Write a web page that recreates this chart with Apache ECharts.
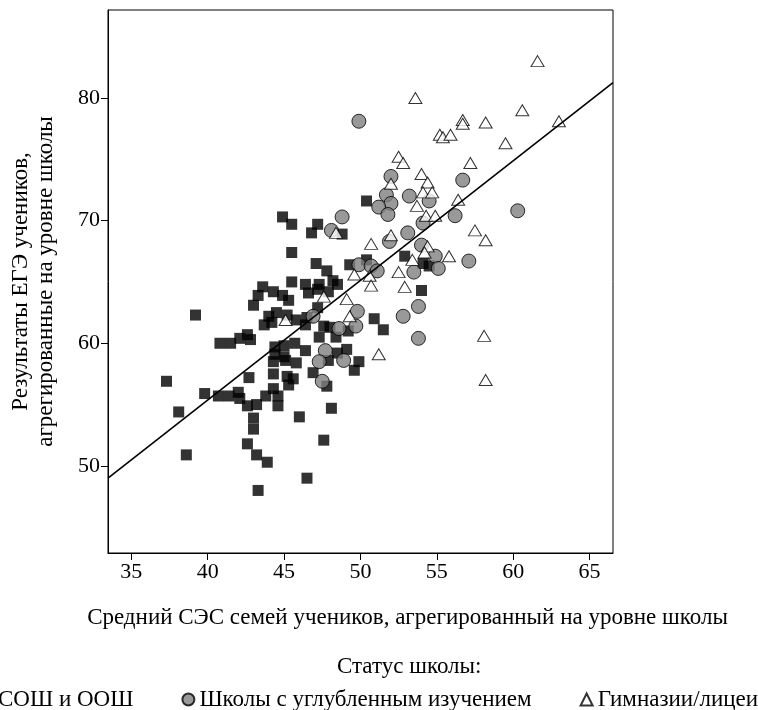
<!DOCTYPE html>
<html>
<head>
<meta charset="utf-8">
<script src="https://cdn.jsdelivr.net/npm/echarts@6/dist/echarts.min.js"></script>
<style>
  html, body { margin: 0; padding: 0; background: #fff; }
  #chart { width: 758px; height: 710px; }
</style>
</head>
<body>
<div id="chart"></div>
<script>
// значения: [СЭС, балл ЕГЭ]
const soshPoints = [
  [43.6, 64.6], [43.3, 63.9], [44.3, 64.2], [43.0, 63.1], [39.2, 62.3], [44.0, 62.2], [44.5, 62.5],
  [43.7, 61.5], [44.2, 61.7], [40.8, 60.0], [41.5, 60.0], [42.1, 60.4], [42.6, 60.7], [42.8, 60.3],
  [44.4, 59.7], [44.4, 59.1], [44.3, 58.5], [42.7, 57.2], [37.3, 56.9], [44.3, 57.5], [39.8, 55.9],
  [40.7, 55.7], [41.4, 55.7], [42.0, 56.0], [42.1, 55.5], [42.6, 54.9], [43.2, 55.0], [43.8, 55.7],
  [44.3, 56.3], [44.6, 55.7], [44.6, 54.9], [38.1, 54.4], [43.0, 53.9], [43.0, 53.0], [42.6, 51.8],
  [43.2, 50.9], [43.9, 50.3], [38.6, 50.9], [43.3, 48.0],
  [44.9, 70.3], [45.5, 69.7], [47.2, 69.7], [46.8, 69.0], [48.8, 68.9], [45.5, 67.4], [47.1, 66.5],
  [47.8, 65.9], [49.3, 66.4], [50.4, 66.8], [50.4, 71.6], [45.5, 65.0], [46.4, 64.8], [47.3, 64.8],
  [48.2, 65.1], [48.5, 64.8], [47.9, 64.2], [46.6, 64.1], [47.2, 64.4], [44.9, 63.9], [45.3, 63.5],
  [47.2, 62.9], [45.2, 62.3], [45.8, 61.9], [46.5, 62.1], [46.4, 61.5], [47.6, 61.4], [48.0, 61.3],
  [47.3, 60.5], [48.4, 60.5], [49.2, 61.0], [50.9, 62.0], [51.5, 61.1], [45.7, 60.0], [45.0, 59.8],
  [46.4, 59.4], [48.5, 59.2], [49.1, 59.5], [45.0, 58.9], [45.1, 58.6], [45.8, 58.4], [47.9, 58.6],
  [49.9, 58.5], [49.6, 57.8], [46.9, 57.6], [45.2, 57.3], [45.6, 57.1], [45.3, 56.6], [47.8, 56.5],
  [48.1, 54.7], [46.0, 54.0], [47.6, 52.1], [46.5, 49.0], [52.9, 67.1], [54.1, 66.5], [54.5, 66.3],
  [54.0, 64.3]
];

const uglublPoints = [
  [49.9, 78.1], [52.0, 73.6], [51.7, 72.1], [52.0, 71.4], [51.2, 71.1], [51.8, 70.5], [53.2, 72.0],
  [54.5, 71.6], [56.7, 73.3], [60.3, 70.8], [56.2, 70.4], [54.1, 69.8], [48.8, 70.3], [53.1, 69.0],
  [51.9, 68.3], [48.1, 69.2], [54.0, 68.0], [54.9, 67.1], [57.1, 66.7], [55.1, 66.1], [53.5, 65.8],
  [49.9, 66.4], [50.7, 66.3], [51.1, 65.9], [53.8, 63.0], [49.8, 62.6], [52.8, 62.2], [49.7, 61.4],
  [48.6, 61.2], [46.9, 62.2], [47.7, 59.4], [47.3, 58.5], [48.9, 58.6], [47.5, 56.9], [53.8, 60.4]
];

const gimnPoints = [
  [61.6, 83.0], [53.6, 80.0], [60.6, 79.0], [56.7, 78.2], [56.7, 77.9], [58.2, 78.0], [63.0, 78.1],
  [55.2, 77.0], [55.4, 76.8], [55.9, 77.0], [59.5, 76.3], [52.5, 75.2], [52.8, 74.7], [57.2, 74.7],
  [52.0, 73.0], [54.0, 73.8], [54.4, 73.1], [54.1, 72.3], [54.7, 72.3], [53.7, 71.2], [56.4, 71.7],
  [54.3, 70.4], [54.9, 70.4], [57.5, 69.2], [58.2, 68.4], [52.0, 68.8], [50.7, 68.1], [48.4, 69.0],
  [54.4, 67.9], [54.2, 67.4], [55.8, 67.1], [53.4, 66.8], [52.5, 65.8], [49.6, 65.6], [50.6, 65.5],
  [50.7, 64.7], [52.9, 64.6], [49.1, 63.6], [47.6, 63.8], [45.1, 61.9], [49.3, 62.2], [51.2, 59.1],
  [58.1, 60.6], [58.2, 57.0]
];

// линия регрессии (концы у краёв области построения)
const fitX = [33.47, 66.54];
const fitY = [49.0, 81.25];

const xTicks = [35, 40, 45, 50, 55, 60, 65];
const yTicks = [50, 60, 70, 80];

const FONT = 'Liberation Serif';

const chart = echarts.init(document.getElementById('chart'), null, { renderer: 'canvas' });

const option = {
  backgroundColor: '#fff',
  animation: false,
  textStyle: { fontFamily: FONT, color: '#000' },
  title: {
    text: 'Статус школы:',
    left: 332,
    top: 650,
    textStyle: { fontFamily: FONT, fontSize: 23, fontWeight: 'normal', color: '#000' }
  },
  legend: {
    data: ['СОШ и ООШ', 'Школы с углубленным изучением', 'Гимназии/лицеи'],
    left: -24,
    top: 683,
    width: 1000,
    itemWidth: 12,
    itemHeight: 12,
    itemGap: 48,
    textStyle: { fontFamily: FONT, fontSize: 23, color: '#000' }
  },
  grid: {
    left: 105,
    right: 145,
    top: 10,
    bottom: 157,
    show: true,
    borderColor: '#000',
    borderWidth: 1
  },
  xAxis: {
    type: 'value',
    min: 33.47,
    max: 66.54,
    name: 'Средний СЭС семей учеников, агрегированный на уровне школы',
    nameLocation: 'middle',
    nameGap: 53,
    // подпись сдвинута вправо, как в оригинале
    nameTextStyle: { fontFamily: FONT, fontSize: 23, color: '#000', padding: [0, 0, 0, 94] },
    axisLine: { lineStyle: { color: '#000', width: 1 } },
    axisTick: { length: 7, lineStyle: { color: '#000' }, customValues: xTicks },
    axisLabel: { fontFamily: FONT, fontSize: 22, color: '#000', margin: 8, customValues: xTicks },
    splitLine: { show: false }
  },
  yAxis: {
    type: 'value',
    min: 42.9,
    max: 87.17,
    name: 'Результаты ЕГЭ учеников,\nагрегированные на уровне школы',
    nameLocation: 'middle',
    nameRotate: 90,
    nameGap: 50,
    nameTextStyle: { fontFamily: FONT, fontSize: 23, color: '#000', lineHeight: 25 },
    axisLine: { lineStyle: { color: '#000', width: 1 } },
    axisTick: { length: 7, lineStyle: { color: '#000' }, customValues: yTicks },
    axisLabel: { fontFamily: FONT, fontSize: 22, color: '#000', margin: 8, customValues: yTicks },
    splitLine: { show: false }
  },
  series: [
    {
      name: 'СОШ и ООШ',
      type: 'scatter',
      symbol: 'rect',
      symbolSize: 11,
      data: soshPoints,
      itemStyle: { color: '#000' }
    },
    {
      name: 'Школы с углубленным изучением',
      type: 'scatter',
      symbol: 'circle',
      symbolSize: 14,
      data: uglublPoints,
      itemStyle: { color: '#808080', borderColor: '#000', borderWidth: 1 }
    },
    {
      name: 'Гимназии/лицеи',
      type: 'scatter',
      symbol: 'triangle',
      symbolSize: [13, 11],
      data: gimnPoints,
      itemStyle: { color: '#fff', borderColor: '#000', borderWidth: 1 }
    },
    {
      name: 'fit',
      type: 'line',
      data: fitX.map((x, i) => [x, fitY[i]]),
      showSymbol: false,
      silent: true,
      z: 5,
      lineStyle: { color: '#000', width: 1.6 }
    }
  ]
};

chart.setOption(option);
</script>
</body>
</html>
